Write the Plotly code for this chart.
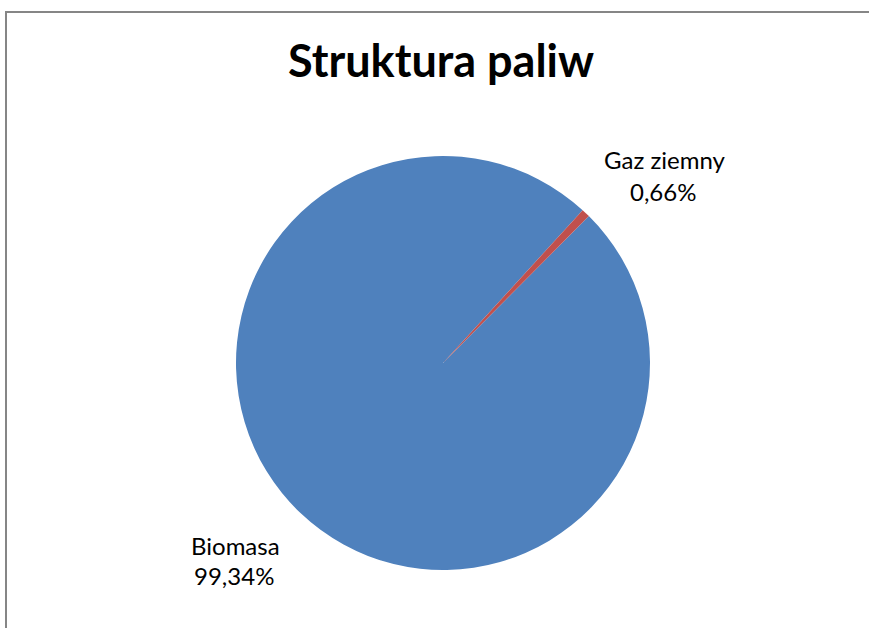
import plotly.graph_objects as go

categories = ["Biomasa", "Gaz ziemny"]
values = [99.34, 0.66]
colors = ["#4F81BD", "#C0504D"]
title_text = "Struktura paliw"

W, H = 869, 628
cx, cy, r = 443, 363, 207

FONT = "Lato"

fig = go.Figure(go.Pie(
    labels=categories,
    values=values,
    sort=False,
    direction="clockwise",
    rotation=44.8,
    textinfo="none",
    hoverinfo="label+percent",
    marker=dict(colors=colors, line=dict(width=0)),
    domain=dict(x=[(cx - r) / W, (cx + r) / W], y=[(H - cy - r) / H, (H - cy + r) / H]),
    showlegend=False,
))

def pct(v):
    return f"{v:.2f}".replace(".", ",") + "%"

label_pos = {
    "Biomasa": [(236, 545), (234, 575)],
    "Gaz ziemny": [(664, 160), (663, 192)],
}

annotations = []
for cat, v in zip(categories, values):
    (x1, y1), (x2, y2) = label_pos[cat]
    for (x, y), t in (((x1, y1), cat), ((x2, y2), pct(v))):
        annotations.append(dict(
            x=x / W, y=1 - y / H, xref="paper", yref="paper",
            text=t, showarrow=False, xanchor="center", yanchor="middle",
            font=dict(family=FONT, size=24, color="#000000"),
        ))

annotations.append(dict(
    x=441.5 / W, y=1 - 60 / H, xref="paper", yref="paper",
    text=f"<b>{title_text}</b>", showarrow=False, xanchor="center", yanchor="middle",
    font=dict(family=FONT, size=45, color="#000000"),
))

border = dict(color="#868686", width=2)
fig.update_layout(
    width=W, height=H,
    margin=dict(l=0, r=0, t=0, b=0),
    paper_bgcolor="white",
    plot_bgcolor="white",
    annotations=annotations,
    shapes=[
        dict(type="path", xref="paper", yref="paper",
             path=f"M {6 / W} 0 L {6 / W} {1 - 12 / H} L 1.02 {1 - 12 / H}",
             line=border),
    ],
)

fig.write_html(
    "out.html",
    config={"displayModeBar": False},
    post_script="document.body.style.margin='0';document.body.style.overflow='hidden';",
)
